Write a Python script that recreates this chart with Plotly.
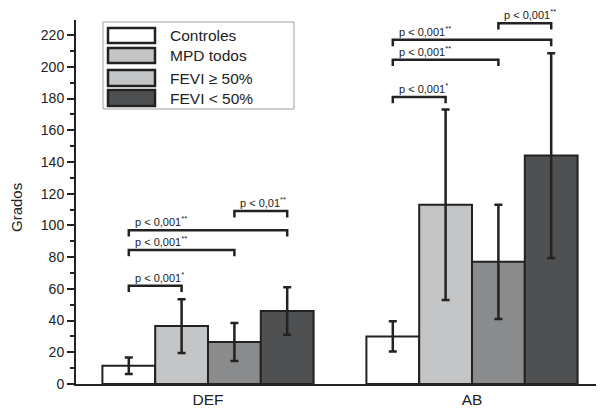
import plotly.graph_objects as go

categories = ["DEF", "AB"]
series_names = ["Controles", "MPD todos", "FEVI \u2265 50%", "FEVI < 50%"]
values = {
    "Controles": [11.5, 30],
    "MPD todos": [36.5, 113],
    "FEVI \u2265 50%": [26.5, 77],
    "FEVI < 50%": [46, 144],
}
errors = {
    "Controles": [5.2, 9.5],
    "MPD todos": [17, 60],
    "FEVI \u2265 50%": [12, 36],
    "FEVI < 50%": [15, 64.5],
}
colors = ["#ffffff", "#c4c5c7", "#8a8b8d", "#4f5052"]
legend_colors = ["#ffffff", "#c4c5c7", "#c4c5c7", "#4f5052"]

# comparisons: (category index, series i, series j, bracket height, label)
comparisons = [
    (0, 0, 1, 62, "p < 0,001<sup>*</sup>"),
    (0, 0, 2, 84.5, "p < 0,001<sup>**</sup>"),
    (0, 0, 3, 97, "p < 0,001<sup>**</sup>"),
    (0, 2, 3, 109, "p < 0,01<sup>**</sup>"),
    (1, 0, 1, 181, "p < 0,001<sup>*</sup>"),
    (1, 0, 2, 204.5, "p < 0,001<sup>**</sup>"),
    (1, 0, 3, 217, "p < 0,001<sup>**</sup>"),
    (1, 2, 3, 227.5, "p < 0,001<sup>**</sup>"),
]

INK = "#222222"
FONT = "Liberation Sans, Arial, sans-serif"
OFF = 8  # page body margin
# target plot-area edges in screen pixels
L, T, R, BOT = 76, 20, 604, 384
W, H = 604 - OFF, 410 - OFF
PW, PH = R - L, BOT - T
YMAX = 229.5
BW = 0.2

fig = go.Figure()
for k, name in enumerate(series_names):
    fig.add_trace(go.Bar(
        x=[c + (k - 1.5) * BW for c in range(len(categories))],
        y=values[name],
        width=BW,
        name=name,
        marker=dict(color=colors[k], line=dict(color=INK, width=2)),
        error_y=dict(type="data", array=errors[name], color=INK, thickness=2.5, width=4),
        showlegend=False,
    ))

shapes = []
annotations = []
tick = 4
for ci, i, j, h, label in comparisons:
    x0 = ci + (i - 1.5) * BW
    x1 = ci + (j - 1.5) * BW
    shapes.append(dict(type="path", xref="x", yref="y",
                       path=f"M {x0},{h - tick} L {x0},{h} L {x1},{h} L {x1},{h - tick}",
                       line=dict(color=INK, width=2.5)))
    annotations.append(dict(x=x0, y=h, xref="x", yref="y", text=label, showarrow=False,
                            xanchor="left", yanchor="bottom", xshift=4, yshift=0,
                            font=dict(family=FONT, size=11, color=INK)))

# manual legend (screen pixel positions converted to paper coords)
def px(x):
    return (x - L) / PW

def py(y):
    return (BOT - y) / PH

shapes.append(dict(type="rect", xref="paper", yref="paper",
                   x0=px(103), x1=px(294), y0=py(109), y1=py(22),
                   line=dict(color="#a0a0a0", width=1), fillcolor="white", layer="below"))
leg_rows = [(28, 43), (48, 63), (70, 86), (90, 106)]
for k, name in enumerate(series_names):
    y0, y1 = leg_rows[k]
    shapes.append(dict(type="rect", xref="paper", yref="paper",
                       x0=px(108), x1=px(155), y0=py(y1), y1=py(y0),
                       line=dict(color=INK, width=2.5), fillcolor=legend_colors[k]))
    annotations.append(dict(x=px(168), y=py((y0 + y1) / 2), xref="paper", yref="paper",
                            text=name, showarrow=False, xanchor="left", yanchor="middle",
                            font=dict(family=FONT, size=15.5, color=INK)))

annotations.append(dict(x=px(17), y=py(208), xref="paper", yref="paper", text="Grados",
                        textangle=-90, showarrow=False, xanchor="center", yanchor="middle",
                        font=dict(family=FONT, size=15, color=INK)))

fig.update_layout(
    width=W, height=H,
    margin=dict(l=L - OFF, r=W - (R - OFF), t=T - OFF, b=H - (BOT - OFF), pad=0),
    plot_bgcolor="white", paper_bgcolor="white",
    shapes=shapes, annotations=annotations,
    showlegend=False,
    xaxis=dict(range=[-0.5, 1.5], tickvals=list(range(len(categories))), ticktext=categories,
               showgrid=False, zeroline=False, showline=True, linecolor=INK, linewidth=2,
               ticks="", tickfont=dict(family=FONT, size=15.5, color=INK)),
    yaxis=dict(range=[0, YMAX], tickvals=list(range(0, 221, 20)), showgrid=False,
               zeroline=False, showline=True, linecolor=INK, linewidth=2,
               ticks="outside", ticklen=7, tickwidth=2, tickcolor=INK,
               minor=dict(tickvals=list(range(10, 221, 20)), ticks="outside", ticklen=4,
                          tickwidth=2, tickcolor=INK),
               tickfont=dict(family=FONT, size=14, color=INK)),
)

fig.write_html("out.html")
